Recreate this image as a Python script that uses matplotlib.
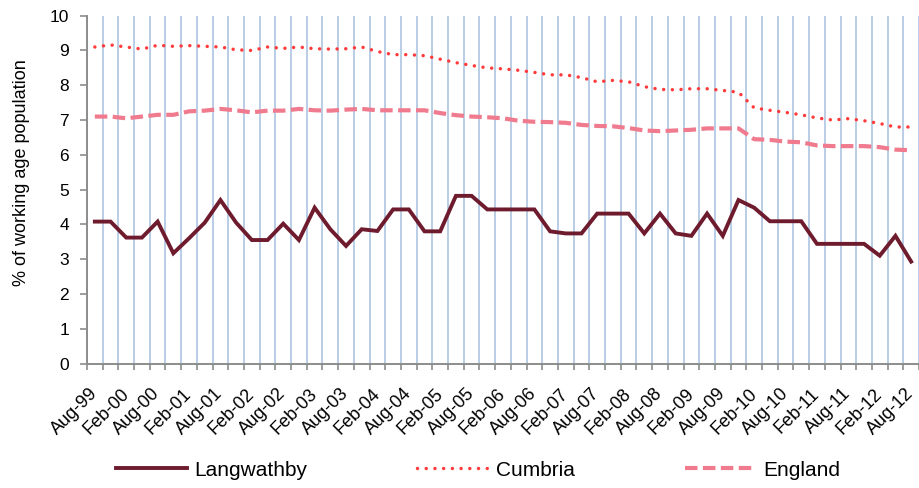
import numpy as np
import matplotlib
matplotlib.use("Agg")
import matplotlib.pyplot as plt

plt.rcParams['font.family'] = ['Liberation Sans', 'DejaVu Sans']

# quarterly values, Aug-99 .. Aug-12 (53 quarters)
langwathby = [4.08, 4.08, 3.62, 3.62, 4.08, 3.17, 3.60, 4.05, 4.70, 4.05,
              3.55, 3.55, 4.02, 3.55, 4.48, 3.86, 3.38, 3.86, 3.81, 4.43,
              4.43, 3.80, 3.80, 4.82, 4.82, 4.43, 4.43, 4.43, 4.43, 3.80,
              3.74, 3.74, 4.31, 4.31, 4.31, 3.74, 4.31, 3.74, 3.67, 4.31,
              3.67, 4.70, 4.48, 4.09, 4.09, 4.09, 3.44, 3.44, 3.44, 3.44,
              3.10, 3.67, 2.93]
cumbria = [9.10, 9.16, 9.10, 9.04, 9.15, 9.12, 9.14, 9.12, 9.10, 9.02,
           9.00, 9.10, 9.06, 9.10, 9.05, 9.04, 9.05, 9.10, 8.97, 8.88,
           8.88, 8.85, 8.75, 8.65, 8.57, 8.50, 8.47, 8.43, 8.37, 8.30,
           8.30, 8.22, 8.10, 8.14, 8.10, 7.96, 7.88, 7.87, 7.90, 7.90,
           7.85, 7.80, 7.35, 7.28, 7.22, 7.15, 7.06, 7.00, 7.04, 6.98,
           6.90, 6.80, 6.80]
england = [7.10, 7.10, 7.05, 7.10, 7.15, 7.15, 7.25, 7.27, 7.32, 7.28,
           7.22, 7.27, 7.27, 7.32, 7.28, 7.27, 7.30, 7.32, 7.28, 7.28,
           7.28, 7.28, 7.20, 7.14, 7.10, 7.08, 7.05, 6.98, 6.95, 6.94,
           6.92, 6.86, 6.83, 6.82, 6.77, 6.70, 6.68, 6.70, 6.72, 6.76,
           6.76, 6.76, 6.45, 6.43, 6.38, 6.36, 6.27, 6.25, 6.25, 6.25,
           6.22, 6.15, 6.13]
tick_labels = ["Aug-99", "Feb-00", "Aug-00", "Feb-01", "Aug-01", "Feb-02",
               "Aug-02", "Feb-03", "Aug-03", "Feb-04", "Aug-04", "Feb-05",
               "Aug-05", "Feb-06", "Aug-06", "Feb-07", "Aug-07", "Feb-08",
               "Aug-08", "Feb-09", "Aug-09", "Feb-10", "Aug-10", "Feb-11",
               "Aug-11", "Feb-12", "Aug-12"]

x = np.arange(len(langwathby))

fig = plt.figure(figsize=(9.19, 4.88), dpi=100)
ax = fig.add_axes([87 / 919, 1 - 363.5 / 488, 832 / 919, (363.5 - 15.7) / 488])

ax.plot(x, langwathby, color="#6E1B2E", lw=2.8, label="Langwathby",
        solid_joinstyle="miter", zorder=3)
ax.plot(x, cumbria, color="#FF3B3B", lw=2.5, linestyle=(0, (0.01, 2.5)),
        dash_capstyle="round", label="Cumbria", zorder=3)
ax.plot(x, england, color="#F07A8E", lw=3.0, linestyle=(0, (3.0, 1.3)),
        label="England", zorder=3)

ax.set_xlim(-0.5, len(x) - 0.5)
ax.set_ylim(0, 10)
ax.set_yticks(range(0, 11))
ax.tick_params(axis="y", length=5, width=1.2, color="#8C8C8C", pad=8,
               labelsize=12.5)

# labels every half year, ticks + grid on every quarter boundary
ax.set_xticks(x[::2])
ax.set_xticklabels(tick_labels, rotation=45, ha="right", va="center",
                   rotation_mode="anchor", fontsize=13)
ax.set_xticks(np.arange(-0.5, len(x)), minor=True)
ax.tick_params(axis="x", which="major", length=0, pad=20)
ax.tick_params(axis="x", which="minor", length=4, width=1.2, color="#8C8C8C")
ax.grid(axis="x", which="minor", color="#B9CDE5", lw=1.4)
ax.set_axisbelow(True)

for s in ["top", "right"]:
    ax.spines[s].set_visible(False)
for s in ["left", "bottom"]:
    ax.spines[s].set_color("#8C8C8C")
    ax.spines[s].set_linewidth(1.4)

ax.set_ylabel("% of working age population", fontsize=13)
ax.yaxis.set_label_coords(-0.0685, 0.548)

fig.legend(loc="center", bbox_to_anchor=(478 / 919, 1 - 470 / 488), ncol=3,
           frameon=False, fontsize=15, handlelength=3.4, handletextpad=0.35,
           columnspacing=5.3)

fig.savefig("out.png", dpi=100)
